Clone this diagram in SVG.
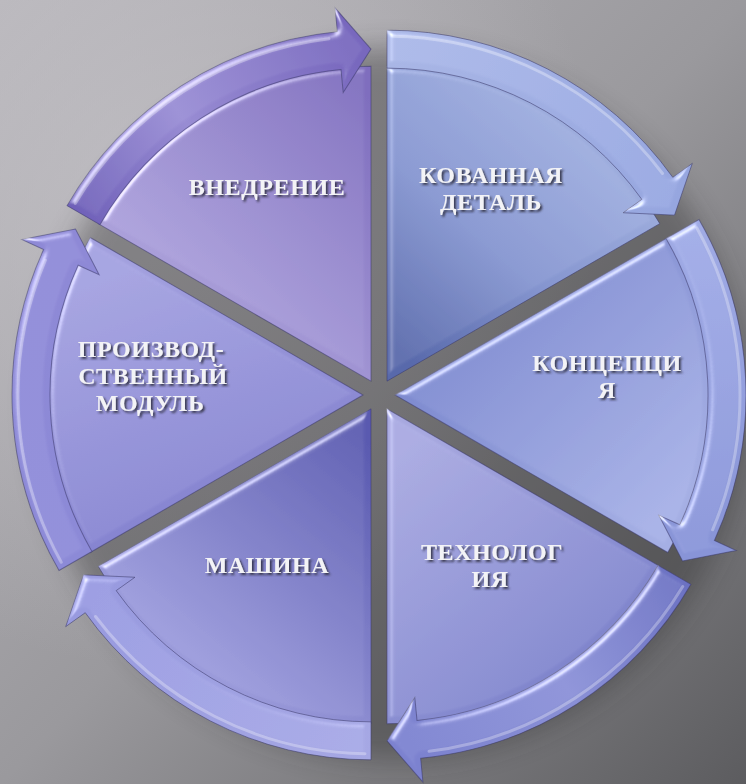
<svg xmlns="http://www.w3.org/2000/svg" xmlns:xlink="http://www.w3.org/1999/xlink" width="746" height="784" viewBox="0 0 746 784">
<style>
.lbl{font-family:"Liberation Serif","Times New Roman",serif;font-weight:bold;font-size:24px;letter-spacing:0.6px;fill:#f3f3f6;text-anchor:middle;filter:url(#tshadow)}
.edge{stroke:#3a396a;stroke-opacity:.55;stroke-width:1}
.hl{fill:none;stroke:#ffffff;stroke-opacity:.3;stroke-width:3;stroke-linecap:round}
</style>
<defs>
<path id="sector" d="M0,0 L0,-315 A315,315 0 0 1 272.8,-157.5 Z"/>
<path id="ring" d="M0,-351 A351,351 0 0 1 285.75,-203.83 L305.29,-217.76 L287.52,-166 L236.09,-168.4 L254.82,-181.76 A313,313 0 0 0 0,-313 Z"/>
<path id="ringhl" d="M6.02,-344.95 A345,345 0 0 1 275.53,-207.63"/>
<linearGradient id="bg" x1="0" y1="0" x2="1" y2="1">
<stop offset="0" stop-color="#b8b6bb"/><stop offset="0.5" stop-color="#9a999d"/><stop offset="1" stop-color="#5c5c5f"/>
</linearGradient>
<radialGradient id="glow" cx="0.2" cy="0.25" r="0.6">
<stop offset="0" stop-color="#c4c2c7" stop-opacity=".7"/><stop offset="1" stop-color="#c4c2c7" stop-opacity="0"/>
</radialGradient>
<filter id="blur" x="-20%" y="-20%" width="140%" height="140%"><feGaussianBlur stdDeviation="14"/></filter>
<filter id="tshadow" x="-10%" y="-20%" width="130%" height="160%"><feDropShadow dx="2" dy="2" stdDeviation="1.3" flood-color="#2c2c3a" flood-opacity=".85"/></filter>
<filter id="bevel" x="-5%" y="-5%" width="110%" height="110%">
<feGaussianBlur in="SourceAlpha" stdDeviation="3" result="b"/>
<feSpecularLighting in="b" surfaceScale="4" specularConstant="0.8" specularExponent="28" lighting-color="#ffffff" result="s">
<feDistantLight azimuth="225" elevation="38"/>
</feSpecularLighting>
<feComposite in="s" in2="SourceAlpha" operator="in" result="si"/>
<feComposite in="SourceGraphic" in2="si" operator="arithmetic" k1="0" k2="1" k3="0.7" k4="0"/>
</filter>
<linearGradient id="gS1" gradientUnits="userSpaceOnUse" x1="20" y1="-20" x2="230" y2="-260"><stop offset="0" stop-color="#5869ab"/><stop offset=".45" stop-color="#8595cf"/><stop offset="1" stop-color="#a3b2e0"/></linearGradient>
<linearGradient id="gS2" gradientUnits="userSpaceOnUse" gradientTransform="rotate(-60)" x1="30" y1="-100" x2="260" y2="130"><stop offset="0" stop-color="#7683cb"/><stop offset="1" stop-color="#a5afe4"/></linearGradient>
<linearGradient id="gS3" gradientUnits="userSpaceOnUse" gradientTransform="rotate(-120)" x1="30" y1="30" x2="230" y2="280"><stop offset="0" stop-color="#a7a8df"/><stop offset="1" stop-color="#797fc9"/></linearGradient>
<linearGradient id="gS4" gradientUnits="userSpaceOnUse" gradientTransform="rotate(-180)" x1="-20" y1="20" x2="-220" y2="260"><stop offset="0" stop-color="#5a5ab0"/><stop offset="1" stop-color="#a2a2df"/></linearGradient>
<linearGradient id="gS5" gradientUnits="userSpaceOnUse" gradientTransform="rotate(-240)" x1="-220" y1="-130" x2="-120" y2="140"><stop offset="0" stop-color="#a2a0de"/><stop offset="1" stop-color="#8280ce"/></linearGradient>
<linearGradient id="gS6" gradientUnits="userSpaceOnUse" gradientTransform="rotate(-300)" x1="-20" y1="-300" x2="-230" y2="-80"><stop offset="0" stop-color="#7f6ebe"/><stop offset="1" stop-color="#b0a6dd"/></linearGradient>
<linearGradient id="gR1" gradientUnits="userSpaceOnUse" x1="0" y1="-350" x2="300" y2="-200"><stop offset="0" stop-color="#aab7e6"/><stop offset="1" stop-color="#96a6df"/></linearGradient>
<linearGradient id="gR2" gradientUnits="userSpaceOnUse" gradientTransform="rotate(-60)" x1="300" y1="-175" x2="320" y2="150"><stop offset="0" stop-color="#a0abe5"/><stop offset="1" stop-color="#8894d7"/></linearGradient>
<linearGradient id="gR3" gradientUnits="userSpaceOnUse" gradientTransform="rotate(-120)" x1="304" y1="175" x2="34" y2="349"><stop offset="0" stop-color="#6b71c2"/><stop offset=".5" stop-color="#8a90d6"/><stop offset="1" stop-color="#7c82cf"/></linearGradient>
<linearGradient id="gR4" gradientUnits="userSpaceOnUse" gradientTransform="rotate(-180)" x1="0" y1="351" x2="-286" y2="204"><stop offset="0" stop-color="#a6a8e4"/><stop offset="1" stop-color="#989adf"/></linearGradient>
<linearGradient id="gR5" gradientUnits="userSpaceOnUse" gradientTransform="rotate(-240)" x1="-304" y1="175" x2="-319" y2="-145"><stop offset="0" stop-color="#8c8ad7"/><stop offset="1" stop-color="#8e89d6"/></linearGradient>
<linearGradient id="gR6" gradientUnits="userSpaceOnUse" gradientTransform="rotate(-300)" x1="-304" y1="-175" x2="-34" y2="-349"><stop offset="0" stop-color="#6e5fb8"/><stop offset=".45" stop-color="#988cd3"/><stop offset="1" stop-color="#7868be"/></linearGradient>
</defs>
<rect width="746" height="784" fill="url(#bg)"/>
<rect width="746" height="784" fill="url(#glow)"/>
<circle cx="392" cy="404" r="356" fill="#2a2a2c" opacity=".38" filter="url(#blur)"/>
<g id="node-kovannaya-detal">
<g filter="url(#bevel)"><use xlink:href="#sector" href="#sector" transform="translate(387,381.14) rotate(0)" fill="url(#gS1)" class="edge"/></g>
<text class="lbl" x="491" y="183">КОВАННАЯ</text><text class="lbl" x="491" y="210">ДЕТАЛЬ</text>
</g>
<g id="node-koncepciya">
<g filter="url(#bevel)"><use xlink:href="#sector" href="#sector" transform="translate(395,395) rotate(60)" fill="url(#gS2)" class="edge"/></g>
<text class="lbl" x="607" y="371">КОНЦЕПЦИ</text><text class="lbl" x="607" y="398">Я</text>
</g>
<g id="node-tehnologiya">
<g filter="url(#bevel)"><use xlink:href="#sector" href="#sector" transform="translate(387,408.86) rotate(120)" fill="url(#gS3)" class="edge"/></g>
<text class="lbl" x="492" y="560">ТЕХНОЛОГ</text><text class="lbl" x="490" y="587">ИЯ</text>
</g>
<g id="node-mashina">
<g filter="url(#bevel)"><use xlink:href="#sector" href="#sector" transform="translate(371,408.86) rotate(180)" fill="url(#gS4)" class="edge"/></g>
<text class="lbl" x="267" y="573">МАШИНА</text>
</g>
<g id="node-proizvodstvennyj-modul">
<g filter="url(#bevel)"><use xlink:href="#sector" href="#sector" transform="translate(363,395) rotate(240)" fill="url(#gS5)" class="edge"/></g>
<text class="lbl" x="151" y="357">ПРОИЗВОД-</text><text class="lbl" x="153" y="384">СТВЕННЫЙ</text><text class="lbl" x="150" y="411">МОДУЛЬ</text>
</g>
<g id="node-vnedrenie">
<g filter="url(#bevel)"><use xlink:href="#sector" href="#sector" transform="translate(371,381.14) rotate(300)" fill="url(#gS6)" class="edge"/></g>
<text class="lbl" x="267" y="195">ВНЕДРЕНИЕ</text>
</g>
<g id="connectors">
<g filter="url(#bevel)"><use xlink:href="#ring" href="#ring" transform="translate(387,381.14) rotate(0)" fill="url(#gR1)" class="edge"/></g>
<g filter="url(#bevel)"><use xlink:href="#ring" href="#ring" transform="translate(395,395) rotate(60)" fill="url(#gR2)" class="edge"/></g>
<g filter="url(#bevel)"><use xlink:href="#ring" href="#ring" transform="translate(387,408.86) rotate(120)" fill="url(#gR3)" class="edge"/></g>
<g filter="url(#bevel)"><use xlink:href="#ring" href="#ring" transform="translate(371,408.86) rotate(180)" fill="url(#gR4)" class="edge"/></g>
<g filter="url(#bevel)"><use xlink:href="#ring" href="#ring" transform="translate(363,395) rotate(240)" fill="url(#gR5)" class="edge"/></g>
<g filter="url(#bevel)"><use xlink:href="#ring" href="#ring" transform="translate(371,381.14) rotate(300)" fill="url(#gR6)" class="edge"/></g>
<use xlink:href="#ringhl" href="#ringhl" transform="translate(387,381.14) rotate(0)" class="hl"/>
<use xlink:href="#ringhl" href="#ringhl" transform="translate(395,395) rotate(60)" class="hl"/>
<use xlink:href="#ringhl" href="#ringhl" transform="translate(387,408.86) rotate(120)" class="hl"/>
<use xlink:href="#ringhl" href="#ringhl" transform="translate(371,408.86) rotate(180)" class="hl"/>
<use xlink:href="#ringhl" href="#ringhl" transform="translate(363,395) rotate(240)" class="hl"/>
<use xlink:href="#ringhl" href="#ringhl" transform="translate(371,381.14) rotate(300)" class="hl"/>
</g>
</svg>
